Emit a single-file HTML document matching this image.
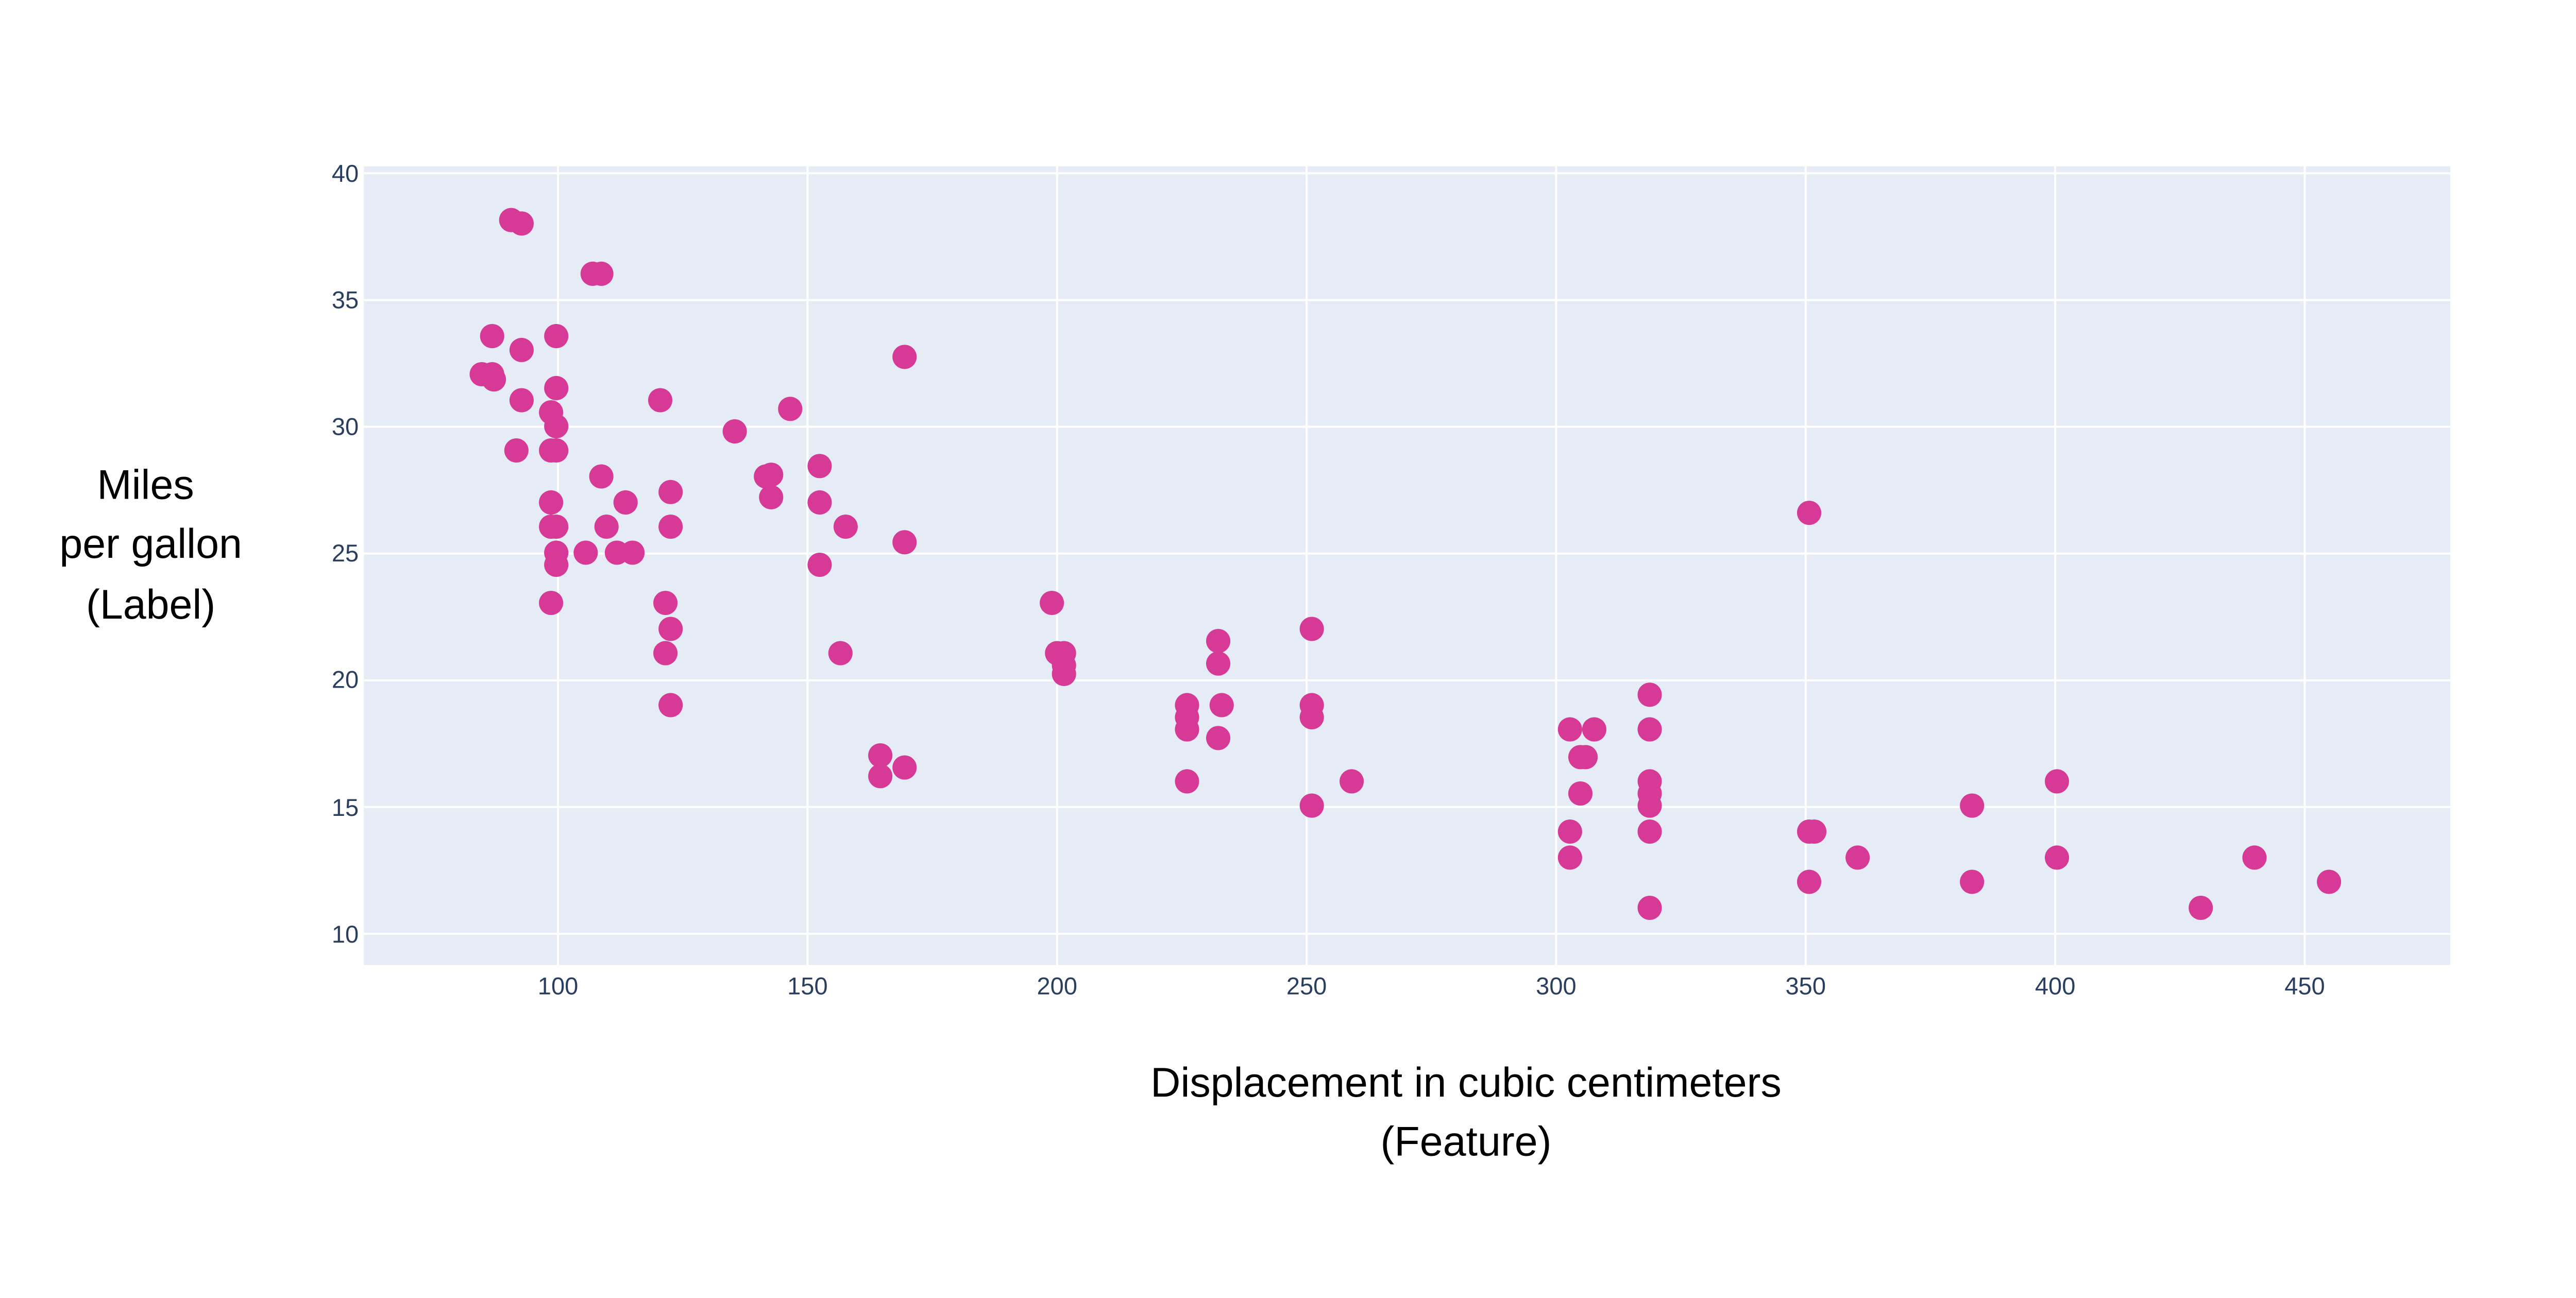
<!DOCTYPE html>
<html><head><meta charset="utf-8"><style>html,body{margin:0;padding:0;background:#fff;overflow:hidden;width:5274px;height:2520px}svg{display:block}</style></head>
<body>
<svg xmlns="http://www.w3.org/2000/svg" width="5274" height="2520" viewBox="0 0 1568 749.2" font-family="'Liberation Sans', sans-serif">
<rect width="1568" height="749.2" fill="#fff"/>
<rect x="210" y="96" width="1204" height="461" fill="#e5ecf6"/>
<g stroke="#fff" stroke-width="1.2">
<line x1="322" y1="96" x2="322" y2="557"/><line x1="466" y1="96" x2="466" y2="557"/><line x1="610" y1="96" x2="610" y2="557"/>
<line x1="754" y1="96" x2="754" y2="557"/><line x1="898" y1="96" x2="898" y2="557"/><line x1="1042" y1="96" x2="1042" y2="557"/>
<line x1="1186" y1="96" x2="1186" y2="557"/><line x1="1330" y1="96" x2="1330" y2="557"/>
<line x1="210" y1="100" x2="1414" y2="100"/><line x1="210" y1="173.2" x2="1414" y2="173.2"/><line x1="210" y1="246.3" x2="1414" y2="246.3"/>
<line x1="210" y1="319.5" x2="1414" y2="319.5"/><line x1="210" y1="392.7" x2="1414" y2="392.7"/><line x1="210" y1="465.8" x2="1414" y2="465.8"/>
<line x1="210" y1="539" x2="1414" y2="539"/>
</g>
<g fill="#2a3f5f" font-size="14" text-anchor="middle">
<text x="322" y="574">100</text><text x="466" y="574">150</text><text x="610" y="574">200</text><text x="754" y="574">250</text>
<text x="898" y="574">300</text><text x="1042" y="574">350</text><text x="1186" y="574">400</text><text x="1330" y="574">450</text>
</g>
<g fill="#2a3f5f" font-size="14" text-anchor="end">
<text x="207" y="105">40</text><text x="207" y="178">35</text><text x="207" y="251">30</text><text x="207" y="324">25</text>
<text x="207" y="397">20</text><text x="207" y="471">15</text><text x="207" y="544">10</text>
</g>
<g fill="#000" font-size="24" text-anchor="middle">
<text x="84" y="288">Miles</text><text x="87" y="322">per gallon</text><text x="87" y="357">(Label)</text>
<text x="846" y="633">Displacement in cubic centimeters</text><text x="846" y="667">(Feature)</text>
</g>
<g fill="#d63a96">
<circle cx="295" cy="127" r="7"/><circle cx="301" cy="129" r="7"/><circle cx="342" cy="158" r="7"/><circle cx="347" cy="158" r="7"/><circle cx="284" cy="194" r="7"/><circle cx="321" cy="194" r="7"/><circle cx="301" cy="202" r="7"/><circle cx="278" cy="216" r="7"/><circle cx="284" cy="216" r="7"/><circle cx="285" cy="219" r="7"/><circle cx="301" cy="231" r="7"/><circle cx="321" cy="224" r="7"/><circle cx="318" cy="238" r="7"/><circle cx="321" cy="246" r="7"/><circle cx="298" cy="260" r="7"/><circle cx="318" cy="260" r="7"/><circle cx="321" cy="260" r="7"/><circle cx="318" cy="290" r="7"/><circle cx="347" cy="275" r="7"/><circle cx="321" cy="304" r="7"/><circle cx="318" cy="304" r="7"/><circle cx="321" cy="319" r="7"/><circle cx="321" cy="326" r="7"/><circle cx="318" cy="348" r="7"/><circle cx="338" cy="319" r="7"/><circle cx="350" cy="304" r="7"/><circle cx="356" cy="319" r="7"/><circle cx="365" cy="319" r="7"/><circle cx="361" cy="290" r="7"/><circle cx="381" cy="231" r="7"/><circle cx="387" cy="284" r="7"/><circle cx="387" cy="304" r="7"/><circle cx="384" cy="348" r="7"/><circle cx="387" cy="363" r="7"/><circle cx="384" cy="377" r="7"/><circle cx="387" cy="407" r="7"/><circle cx="424" cy="249" r="7"/><circle cx="442" cy="275" r="7"/><circle cx="445" cy="274" r="7"/><circle cx="445" cy="287" r="7"/><circle cx="456" cy="236" r="7"/><circle cx="473" cy="269" r="7"/><circle cx="473" cy="290" r="7"/><circle cx="488" cy="304" r="7"/><circle cx="473" cy="326" r="7"/><circle cx="485" cy="377" r="7"/><circle cx="522" cy="206" r="7"/><circle cx="522" cy="313" r="7"/><circle cx="508" cy="436" r="7"/><circle cx="508" cy="448" r="7"/><circle cx="522" cy="443" r="7"/><circle cx="607" cy="348" r="7"/><circle cx="610" cy="377" r="7"/><circle cx="614" cy="377" r="7"/><circle cx="614" cy="384" r="7"/><circle cx="614" cy="389" r="7"/><circle cx="685" cy="407" r="7"/><circle cx="685" cy="414" r="7"/><circle cx="685" cy="421" r="7"/><circle cx="685" cy="451" r="7"/><circle cx="703" cy="370" r="7"/><circle cx="703" cy="383" r="7"/><circle cx="705" cy="407" r="7"/><circle cx="703" cy="426" r="7"/><circle cx="757" cy="363" r="7"/><circle cx="757" cy="407" r="7"/><circle cx="757" cy="414" r="7"/><circle cx="757" cy="465" r="7"/><circle cx="780" cy="451" r="7"/><circle cx="906" cy="421" r="7"/><circle cx="912" cy="437" r="7"/><circle cx="915" cy="437" r="7"/><circle cx="920" cy="421" r="7"/><circle cx="906" cy="480" r="7"/><circle cx="906" cy="495" r="7"/><circle cx="912" cy="458" r="7"/><circle cx="952" cy="401" r="7"/><circle cx="952" cy="421" r="7"/><circle cx="952" cy="451" r="7"/><circle cx="952" cy="458" r="7"/><circle cx="952" cy="465" r="7"/><circle cx="952" cy="480" r="7"/><circle cx="952" cy="524" r="7"/><circle cx="1044" cy="296" r="7"/><circle cx="1044" cy="480" r="7"/><circle cx="1047" cy="480" r="7"/><circle cx="1044" cy="509" r="7"/><circle cx="1072" cy="495" r="7"/><circle cx="1138" cy="465" r="7"/><circle cx="1138" cy="509" r="7"/><circle cx="1187" cy="451" r="7"/><circle cx="1187" cy="495" r="7"/><circle cx="1270" cy="524" r="7"/><circle cx="1301" cy="495" r="7"/><circle cx="1344" cy="509" r="7"/>
</g>
</svg>
</body></html>
